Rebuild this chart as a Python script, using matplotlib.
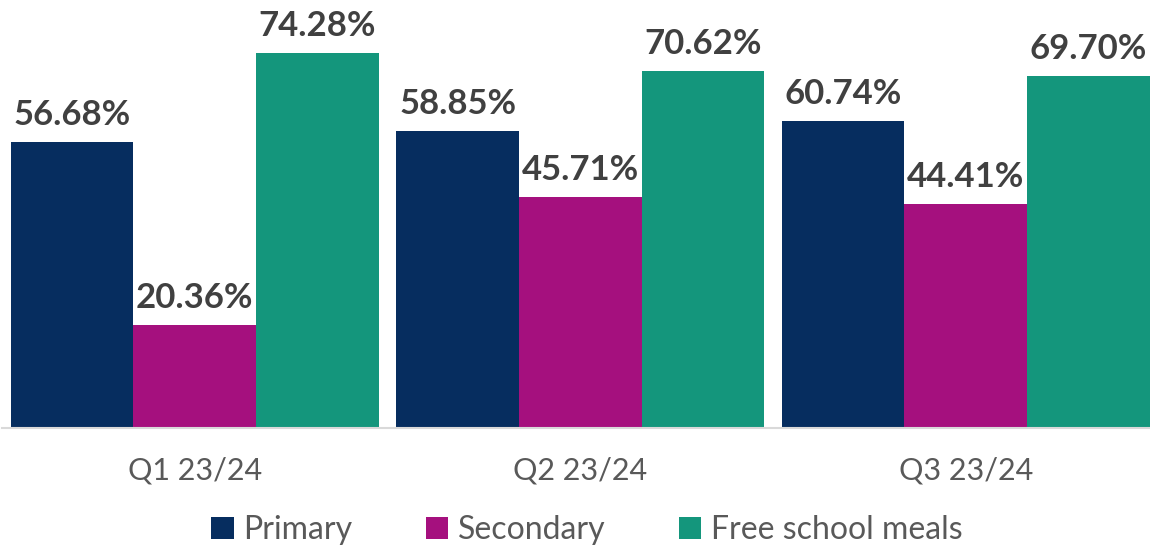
import numpy as np
from matplotlib import pyplot as plt

plt.rcParams['font.family'] = ['Lato', 'DejaVu Sans']

quarters = ['Q1 23/24', 'Q2 23/24', 'Q3 23/24']
series = ['Primary', 'Secondary', 'Free school meals']
primary = [56.68, 58.85, 60.74]
secondary = [20.36, 45.71, 44.41]
fsm = [74.28, 70.62, 69.70]
colours = ['#062d5f', '#a5107e', '#14967c']

W, H = 1150, 547
fig = plt.figure(figsize=(W / 100, H / 100), dpi=100)
# axes placed in pixels: baseline at y=427.5, groups 385.5 px apart
ax = fig.add_axes([2 / W, (H - 427.5) / H, 1156.5 / W, 427.5 / H])

x = np.arange(len(quarters))
bw = 0.318
bars = []
for i, (vals, name, c) in enumerate(zip([primary, secondary, fsm], series, colours)):
    b = ax.bar(x + (i - 1) * bw, vals, bw, color=c, label=name)
    bars.append(b)
    for xi, v in zip(x + (i - 1) * bw, vals):
        ax.annotate(f'{v:.2f}%', (xi, v), xytext=(0, 8), textcoords='offset points',
                    ha='center', va='bottom', fontsize=25, fontweight='bold', color='#404040')

ax.set_xlim(-0.5, 2.5)
ax.set_ylim(0, 84.8)
ax.set_yticks([])
ax.set_xticks(x)
ax.set_xticklabels(quarters, fontsize=22, color='#595959')
ax.tick_params(axis='x', length=0, pad=21)
for s in ['top', 'right', 'left']:
    ax.spines[s].set_visible(False)
ax.spines['bottom'].set_color('#d9d9d9')
ax.spines['bottom'].set_linewidth(1.5)

fig.legend(handles=bars, labels=series, loc='center', bbox_to_anchor=(587 / W, 1 - 530 / H),
           ncol=3, frameon=False, fontsize=23, labelcolor='#595959',
           handlelength=0.7, handleheight=0.7, handletextpad=0.3, columnspacing=2.3)

fig.savefig('out.png', dpi=100)
